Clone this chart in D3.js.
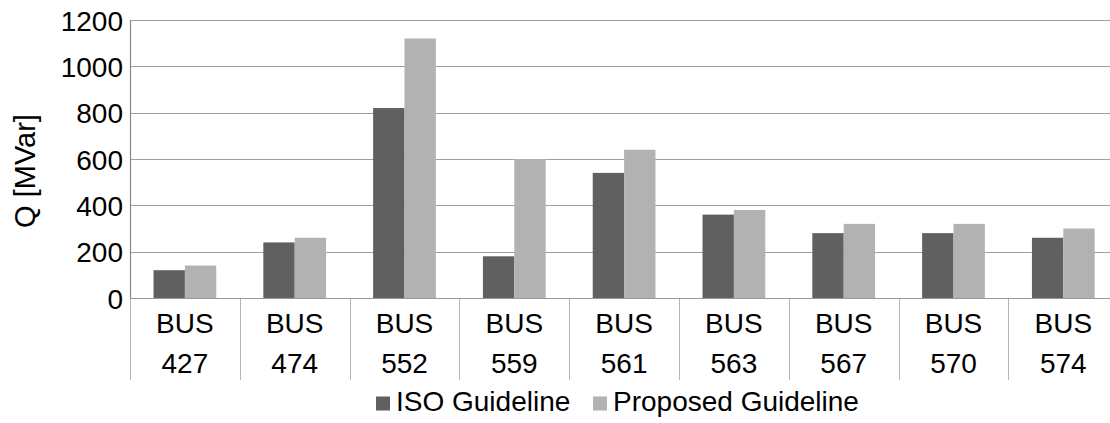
<!DOCTYPE html>
<html>
<head>
<meta charset="utf-8">
<script src="https://cdn.jsdelivr.net/npm/d3@7"></script>
<style>
  html, body { margin: 0; padding: 0; background: #fff; }
  svg { display: block; font-family: "Liberation Sans", Arial, sans-serif; }
</style>
</head>
<body>
<svg id="chart" width="1110" height="423"></svg>
<script>
// Reactive power requirement per bus
const buses = ["427", "474", "552", "559", "561", "563", "567", "570", "574"];
const isoValues = [120, 240, 820, 180, 540, 360, 280, 280, 260];
const proposedValues = [140, 260, 1120, 600, 640, 380, 320, 320, 300];
const seriesNames = ["ISO Guideline", "Proposed Guideline"];
const seriesColors = ["#606060", "#b2b2b2"];
const yTicks = [0, 200, 400, 600, 800, 1000, 1200];

const svg = d3.select("#chart");
const plotLeft = 130, plotTop = 20, plotBottom = 298, catW = 109.8;
const plotRight = plotLeft + catW * buses.length;

const x = d3.scaleBand().domain(buses).range([plotLeft, plotRight]).paddingInner(0).paddingOuter(0);
const barW = x.bandwidth() / 3.5;
const xs = d3.scaleBand().domain(seriesNames)
  .range([barW * 0.75, x.bandwidth() - barW * 0.75]).padding(0);
const y = d3.scaleLinear().domain([0, 1200]).range([plotBottom, plotTop]);

// horizontal gridlines
svg.append("g").selectAll("line").data(yTicks.filter(d => d > 0)).join("line")
  .attr("x1", plotLeft).attr("x2", plotRight)
  .attr("y1", d => Math.round(y(d)) + 0.5).attr("y2", d => Math.round(y(d)) + 0.5)
  .attr("stroke", "#a0a0a0").attr("stroke-width", 1);

// y tick labels
svg.append("g").selectAll("text").data(yTicks).join("text")
  .attr("x", 123).attr("y", d => y(d) + 10.5)
  .attr("text-anchor", "end").attr("font-size", 28).attr("fill", "#000")
  .text(d => d);

// category separators below the axis
svg.append("g").selectAll("line").data(buses.map(b => x(b)).concat([plotRight])).join("line")
  .attr("x1", d => Math.round(d) + 0.5).attr("x2", d => Math.round(d) + 0.5)
  .attr("y1", plotBottom).attr("y2", 380)
  .attr("stroke", "#b4b4b4").attr("stroke-width", 1);

// bars
const rows = buses.map((b, i) => ({ bus: b, values: [isoValues[i], proposedValues[i]] }));
svg.append("g").selectAll("g").data(rows).join("g")
  .attr("transform", d => `translate(${x(d.bus)},0)`)
  .selectAll("rect").data(d => d.values.map((v, j) => ({ key: seriesNames[j], v, j })))
  .join("rect")
  .attr("x", d => xs(d.key)).attr("width", xs.bandwidth())
  .attr("y", d => y(d.v)).attr("height", d => y(0) - y(d.v))
  .attr("fill", d => seriesColors[d.j]);

// axis lines
svg.append("line").attr("x1", plotLeft + 0.5).attr("x2", plotLeft + 0.5).attr("y1", plotTop).attr("y2", plotBottom)
  .attr("stroke", "#888").attr("stroke-width", 1.2);
svg.append("line").attr("x1", plotLeft).attr("x2", plotRight).attr("y1", plotBottom + 0.5).attr("y2", plotBottom + 0.5)
  .attr("stroke", "#999").attr("stroke-width", 1.2);

// category labels (two lines)
const cat = svg.append("g").selectAll("text").data(buses).join("text")
  .attr("text-anchor", "middle").attr("font-size", 28).attr("fill", "#000");
cat.append("tspan").attr("x", d => x(d) + x.bandwidth() / 2).attr("y", 333).text("BUS");
cat.append("tspan").attr("x", d => x(d) + x.bandwidth() / 2).attr("y", 373).text(d => d);

// y axis title
svg.append("text")
  .attr("transform", "translate(35,171) rotate(-90)")
  .attr("text-anchor", "middle").attr("font-size", 29).attr("fill", "#000")
  .text("Q [MVar]");

// legend
const legend = svg.append("g");
const legendX = [376, 593];
seriesNames.forEach((name, i) => {
  legend.append("rect").attr("x", legendX[i]).attr("y", 396.5).attr("width", 14).attr("height", 14)
    .attr("fill", seriesColors[i]);
  legend.append("text").attr("x", legendX[i] + 20).attr("y", 411)
    .attr("font-size", 28).attr("fill", "#000").text(name);
});
</script>
</body>
</html>
